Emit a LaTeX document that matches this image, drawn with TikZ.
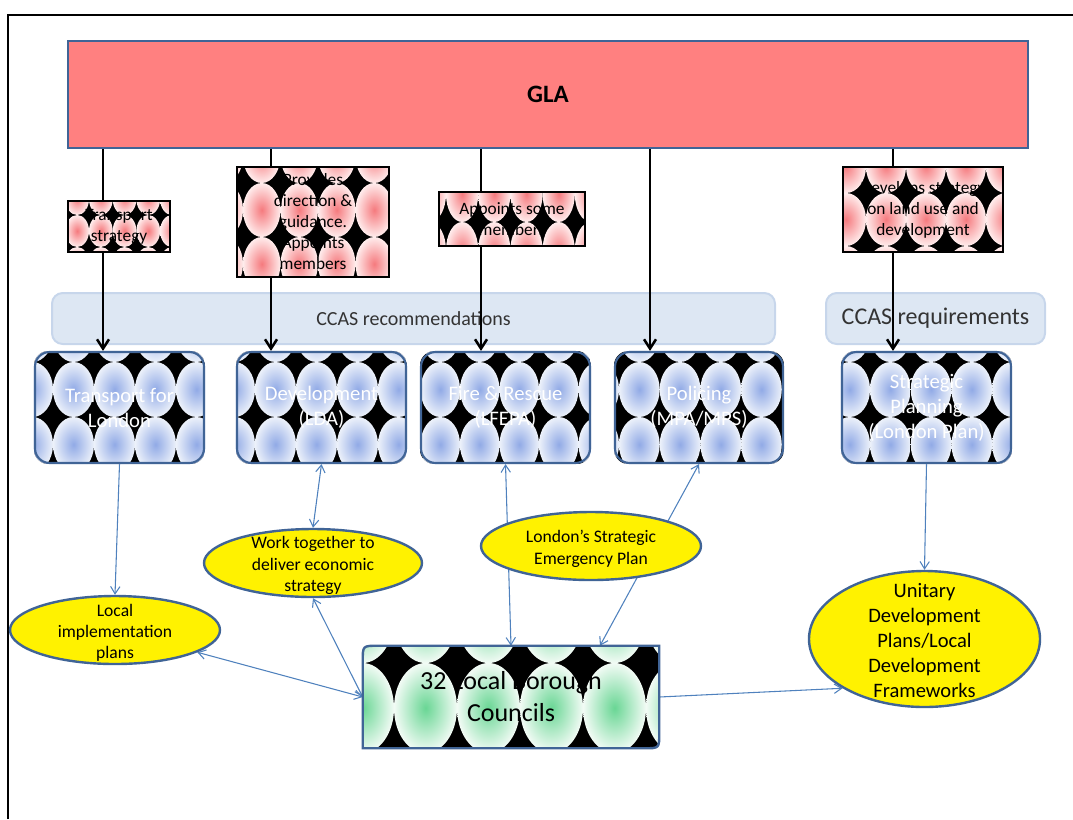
\documentclass[tikz,border=0pt]{standalone}
\usepackage{fontspec}
\setmainfont{Carlito}
\usetikzlibrary{shapes.geometric,arrows.meta,calc}
\pgfdeclarelayer{bgA}\pgfdeclarelayer{bgB}\pgfdeclarelayer{bgC}
\pgfsetlayers{bgA,bgB,bgC,main}
\definecolor{glafill}{RGB}{255,128,128}
\definecolor{bdr}{RGB}{64,100,150}
\definecolor{ccasf}{RGB}{221,231,243}
\definecolor{ccasb}{RGB}{199,214,235}
\definecolor{arrb}{RGB}{79,129,189}
\definecolor{pin}{RGB}{245,122,126}
\definecolor{pout}{RGB}{255,236,236}
\definecolor{bin}{RGB}{145,170,230}
\definecolor{bout}{RGB}{236,241,250}
\definecolor{gin}{RGB}{105,214,148}
\definecolor{gout}{RGB}{242,251,245}
\newcommand{\tilegrid}[8]{%
 \foreach \ii in {-1,...,#5}{%
  \foreach \jj in {-1,...,#6}{%
   \shade[inner color=#7,outer color=#8] ({#1+(\ii+0.5)*#3},{#2+(\jj+0.5)*#4}) ellipse [x radius={#3/2}, y radius={#4/2}];
  }}}
\newcommand{\patrect}[9]{\begin{scope}\clip (#1.south west) rectangle (#1.north east);
 \fill[black] (#1.south west) rectangle (#1.north east);
 \tilegrid{#2}{#3}{#4}{#5}{#6}{#7}{#8}{#9}\end{scope}}
\newcommand{\patround}[9]{\begin{scope}\clip[rounded corners=11pt] (#1.south west) rectangle (#1.north east);
 \fill[black] (#1.south west) rectangle (#1.north east);
 \tilegrid{#2}{#3}{#4}{#5}{#6}{#7}{#8}{#9}\end{scope}}
\begin{document}
\begin{tikzpicture}[x=0.75pt,y=-0.75pt,
  pbox/.style={draw=black, line width=0.8pt, inner sep=0pt, align=center, font=\fontsize{13}{15.75}\selectfont, text=black},
  bbox/.style={draw=bdr, line width=1.6pt, rounded corners=11pt, inner sep=0pt, align=center, font=\fontsize{15.5}{18.75}\selectfont, text=white, minimum width=126.75pt, minimum height=83.25pt},
  yel/.style={ellipse, draw=bdr, line width=1.8pt, fill=yellow, inner sep=0pt},
  lbl/.style={align=center, font=\fontsize{13.2}{16}\selectfont, text=black, yshift=-2pt},
  ccas/.style={draw=ccasb, fill=ccasf, line width=1.5pt, rounded corners=8pt, inner sep=0pt, text=black!80, minimum height=38.25pt},
  blk/.style={line width=1.9pt, -{Straight Barb[length=7pt,width=9pt]}},
  blu/.style={draw=arrb, line width=0.8pt},
  tip/.tip={Straight Barb[length=5.5pt,width=7pt]}
]
\useasboundingbox (0,0) rectangle (1073,819);
\draw[line width=1.5pt] (8,819) -- (8,15) -- (1073,15);

% GLA
\node[draw=bdr, fill=glafill, line width=1.8pt, inner sep=0pt, minimum width=720pt, minimum height=80.25pt,
  font=\fontsize{18.75}{22}\selectfont\bfseries] (GLA) at (548,94.5) {GLA};

% CCAS bands
\begin{pgfonlayer}{bgA}
\node[ccas, minimum width=542.25pt, font=\fontsize{15}{18}\selectfont] (rec) at (413.5,318.5) {CCAS recommendations};
\node[ccas, minimum width=164.25pt, font=\fontsize{18}{21}\selectfont] (req) at (935.5,318.5) {CCAS requirements};
\end{pgfonlayer}

% label boxes
\node[pbox, minimum width=76.5pt, minimum height=38.25pt] (ts) at (119,226.5) {Transport\\strategy};
\node[pbox, minimum width=114pt, minimum height=82.5pt] (pd) at (313,222) {Provides\\direction \&\\guidance.\\Appoints\\members};
\node[pbox, minimum width=109.5pt, minimum height=40.5pt] (ap) at (512,219) {Appoints some\\members};
\node[pbox, minimum width=120pt, minimum height=63.75pt] (dv) at (923,209.5) {Develops strategy\\on land use and\\development};

% blue boxes
\node[bbox] (tfl) at (119.5,407.5) {Transport for\\London};
\node[bbox] (lda) at (321.5,407.5) {Development\\(LDA)};
\node[bbox] (fire) at (505.5,407.5) {Fire \& Rescue\\(LFEPA)};
\node[bbox, minimum width=126pt] (pol) at (699,407.5) {Policing\\(MPA/MPS)};
\node[bbox] (sp) at (926.5,407.5) {Strategic\\Planning\\(London Plan)};

% councils
\node[inner sep=0pt, minimum width=222pt, minimum height=76.5pt, align=center, font=\fontsize{19.5}{24}\selectfont] (cou) at (511,697) {32 Local Borough\\Councils};
\draw[draw=bdr, line width=1.8pt] (cou.south west) -- ($(cou.north west)+(0,15)$) .. controls (cou.north west) .. ($(cou.north west)+(15,0)$) -- (cou.north east) -- ($(cou.south east)+(0,-15)$) .. controls (cou.south east) .. ($(cou.south east)+(-15,0)$) -- cycle;

% ellipses
\node[yel, minimum width=157.5pt, minimum height=51pt, label={[lbl]center:{Local\\implementation\\plans}}] (loc) at (115,630) {};
\node[yel, minimum width=163.5pt, minimum height=51pt, label={[lbl]center:{Work together to\\deliver economic\\strategy}}] (wt) at (313,563) {};
\node[yel, minimum width=165pt, minimum height=51pt, label={[lbl]center:{London’s Strategic\\Emergency Plan}}] (lon) at (591,546) {};
\node[yel, minimum width=173.25pt, minimum height=102pt, label={[lbl, yshift=1pt, font=\fontsize{15.4}{18.75}\selectfont]center:{Unitary\\Development\\Plans/Local\\Development\\Frameworks}}] (uni) at (924.5,639) {};

% patterns
\begin{pgfonlayer}{bgC}
\patrect{ts}{89}{215}{23.7}{32}{3}{1}{pin}{pout}
\patrect{pd}{243}{183}{37.5}{54}{4}{1}{pin}{pout}
\patrect{ap}{446}{222}{32.2}{56}{4}{0}{pin}{pout}
\patrect{dv}{866}{193}{40}{53}{3}{1}{pin}{pout}
\patround{tfl}{53}{362}{41}{55}{3}{1}{bin}{bout}
\patround{lda}{255}{362}{41}{55}{3}{1}{bin}{bout}
\patround{fire}{460}{362}{39.5}{55}{3}{1}{bin}{bout}
\patround{pol}{619}{362}{40.7}{55}{4}{1}{bin}{bout}
\patround{sp}{870}{362}{40.7}{55}{3}{1}{bin}{bout}
\begin{scope}
\clip (cou.south west) -- ($(cou.north west)+(0,15)$) .. controls (cou.north west) .. ($(cou.north west)+(15,0)$) -- (cou.north east) -- ($(cou.south east)+(0,-15)$) .. controls (cou.south east) .. ($(cou.south east)+(-15,0)$) -- cycle;
\fill[black] (cou.south west) rectangle (cou.north east);
\tilegrid{394}{663}{63}{90}{4}{1}{gin}{gout}
\end{scope}
\end{pgfonlayer}

% connectors
\coordinate (x1) at (103,0);
\coordinate (x2) at (271,0);
\coordinate (x3) at (481,0);
\coordinate (x4) at (650,0);
\coordinate (x5) at (893,0);
\begin{pgfonlayer}{bgB}
\draw[blk] (GLA.south -| x1) -- (x1 |- tfl.north);
\draw[blk] (GLA.south -| x2) -- (x2 |- lda.north);
\draw[blk] (GLA.south -| x3) -- (x3 |- fire.north);
\draw[blk] (GLA.south -| x4) -- (x4 |- pol.north);
\draw[blk] (GLA.south -| x5) -- (x5 |- sp.north);
\draw[blu, -{tip}] (tfl.south) -- (loc.north);
\draw[blu, {tip}-{tip}] (lda.south) -- (wt.north);
\draw[blu, {tip}-{tip}] (fire.south) -- (cou.north);
\draw[blu, {tip}-{tip}] (pol.south) -- ($(cou.north west)!0.8!(cou.north east)$);
\draw[blu, {tip}-{tip}] (cou.west) -- (loc);
\draw[blu, {tip}-{tip}] (cou.west) -- (wt.south);
\draw[blu, -{tip}] (sp.south) -- (uni.north);
\draw[blu, -{tip}] (cou.east) -- (uni.211);
\end{pgfonlayer}
\end{tikzpicture}
\end{document}
